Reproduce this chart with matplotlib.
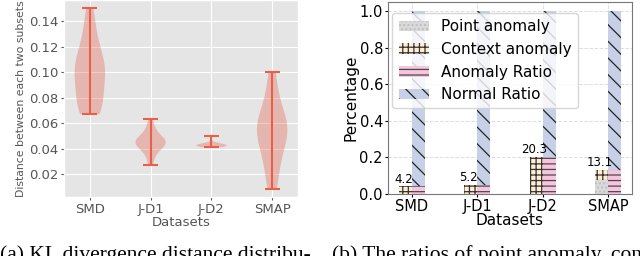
import numpy as np
import matplotlib
matplotlib.use('Agg')
import matplotlib.pyplot as plt

# (a) distances between subsets
datasets = ['SMD', 'J-D1', 'J-D2', 'SMAP']
smd_dist = [0.067, 0.068, 0.070, 0.072, 0.075, 0.078, 0.082, 0.086, 0.090, 0.094,
            0.097, 0.100, 0.102, 0.104, 0.106, 0.108, 0.111, 0.115, 0.120, 0.126,
            0.133, 0.141, 0.150]
jd1_dist = [0.027, 0.033, 0.037, 0.040, 0.042, 0.043, 0.044, 0.044, 0.045, 0.045,
            0.046, 0.047, 0.048, 0.050, 0.053, 0.057, 0.063]
jd2_dist = [0.041, 0.0415, 0.042, 0.0422, 0.0424, 0.0425, 0.0426, 0.0428, 0.043,
            0.0435, 0.044, 0.050]
smap_dist = [0.008, 0.015, 0.022, 0.030, 0.036, 0.041, 0.045, 0.049, 0.052, 0.054,
             0.056, 0.058, 0.060, 0.063, 0.067, 0.072, 0.080, 0.090, 0.100]

# (b) ratios
point_anomaly = [0.0, 0.0, 0.0, 0.075]
context_anomaly = [0.042, 0.052, 0.203, 0.056]
anomaly_ratio = [0.042, 0.052, 0.203, 0.131]

fig = plt.figure(figsize=(6.4, 2.56), dpi=100)

with plt.style.context('ggplot'):
    ax1 = fig.add_axes([0.1, 0.2305, 0.3656, 0.7695])
    parts = ax1.violinplot([smd_dist, jd1_dist, jd2_dist, smap_dist], positions=[1, 2, 3, 4])
    for b in parts['bodies']:
        b.set_facecolor('#E24A33')
        b.set_edgecolor('none')
        b.set_alpha(0.3)
    for k in ['cmaxes', 'cmins', 'cbars']:
        parts[k].set_color('#E8604A')
        parts[k].set_linewidth(1.5)
    ax1.set_ylim(0.002, 0.1565)
    ax1.set_xticks([1, 2, 3, 4])
    ax1.set_xticklabels(datasets)
    ax1.set_yticks([0.02, 0.04, 0.06, 0.08, 0.10, 0.12, 0.14])
    ax1.tick_params(labelsize=9.5, colors='#555555', length=2, pad=2)
    ax1.set_xlabel('Datasets', fontsize=9.5, color='#555555', labelpad=0)
    ax1.set_ylabel('Distance between each two subsets', fontsize=7.8, color='#555555', labelpad=2)

ax2 = fig.add_axes([0.606, 0.242, 0.3815, 0.75])
x = np.arange(len(datasets))
w = 0.2
plt.rcParams['hatch.linewidth'] = 0.9
ax2.bar(x - w / 2, point_anomaly, w, color='#d9d9d9', edgecolor='#bdbdbd', hatch='....',
        linewidth=0, label='Point anomaly')
ax2.bar(x - w / 2, context_anomaly, w, bottom=point_anomaly, color='#fcefd6', edgecolor='#3a3030',
        hatch='+++', linewidth=0, label='Context anomaly')
ax2.bar(x + w / 2, anomaly_ratio, w, color='#f7c6de', edgecolor='#4a4a4a', hatch='---',
        linewidth=0, label='Anomaly Ratio')
normal = [1 - a for a in anomaly_ratio]
ax2.bar(x + w / 2, normal, w, bottom=anomaly_ratio, color='#c6d1e8', edgecolor='#222222',
        hatch='\\\\', linewidth=0, label='Normal Ratio')
for i, a in enumerate(anomaly_ratio):
    ax2.text(x[i] - w / 2 - 0.03, a + 0.004, f'{a * 100:.1f}', ha='center', va='bottom', fontsize=8.5)
ax2.set_xticks(x)
ax2.set_xticklabels(datasets)
ax2.set_yticks([0.0, 0.2, 0.4, 0.6, 0.8, 1.0])
ax2.tick_params(labelsize=10.5, length=2, pad=1.5)
ax2.set_ylim(0, 1.05)
ax2.grid(True, color='#dddddd', linestyle='--', linewidth=0.7)
ax2.set_axisbelow(True)
for s in ax2.spines.values():
    s.set_color('#777777')
ax2.set_xlabel('Datasets', fontsize=11, labelpad=-1)
ax2.set_ylabel('Percentage', fontsize=11, labelpad=1)
ax2.legend(loc='upper left', fontsize=11, bbox_to_anchor=(0.0, 0.965), borderaxespad=0.3)

fig.text(0.0, -0.016, '(a) KL divergence distance distribu-', fontsize=15.5, family='Liberation Serif')
fig.text(0.518, -0.016, '(b) The ratios of point anomaly, con-', fontsize=15.5,
         family='Liberation Serif')

fig.savefig('out.png', dpi=100)
